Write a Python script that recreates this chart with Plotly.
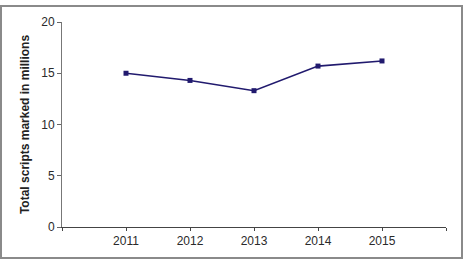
import plotly.graph_objects as go

years = [2011, 2012, 2013, 2014, 2015]
scripts = [15.0, 14.3, 13.3, 15.7, 16.2]
y_title = "Total scripts marked in millions"

L, R, T, B = 62, 17, 22, 34
W, H = 463, 261
pw, ph = W - L - R, H - T - B

fig = go.Figure()
fig.add_trace(go.Scatter(
    x=years, y=scripts, mode="lines+markers",
    line=dict(color="#211a6e", width=1.6),
    marker=dict(symbol="square", size=5, color="#211a6e"),
    showlegend=False, hoverinfo="skip"))

tv = [2010] + years + [2016]
tt = [""] + [str(y) for y in years] + [""]

fig.update_layout(
    width=W, height=H,
    margin=dict(l=L, r=R, t=T, b=B),
    paper_bgcolor="white", plot_bgcolor="white",
    font=dict(family="Liberation Sans, Arial, sans-serif", size=12, color="#2a2a2a"),
    xaxis=dict(range=[2010, 2016], tickvals=tv, ticktext=tt, ticks="outside",
               ticklen=3, tickcolor="#444", showline=True, linecolor="#444",
               linewidth=1, showgrid=False, zeroline=False, fixedrange=True),
    yaxis=dict(range=[0, 20], dtick=5, ticks="outside", ticklen=4,
               tickcolor="#666", showline=True, linecolor="#777", linewidth=1,
               showgrid=False, zeroline=False,
               title=dict(text="<b>" + y_title + "</b>", font=dict(size=12, color="#222"), standoff=9)),
    shapes=[dict(type="rect", xref="paper", yref="paper",
                 x0=(1 - L) / pw, x1=(462 - L) / pw,
                 y0=(H - B - 258) / ph, y1=(H - B - 6) / ph,
                 line=dict(color="#8a8a8a", width=2), fillcolor="rgba(0,0,0,0)", layer="below")],
)

fig.write_html("out.html")
